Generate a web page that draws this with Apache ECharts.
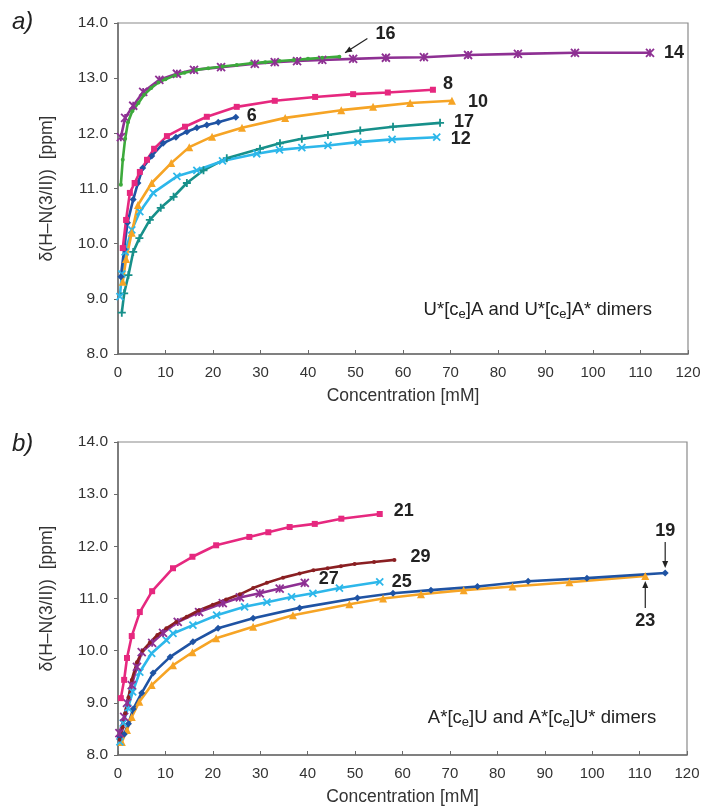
<!DOCTYPE html>
<html>
<head>
<meta charset="utf-8">
<script src="https://cdn.jsdelivr.net/npm/echarts@6/dist/echarts.min.js"></script>
<style>
html,body{margin:0;padding:0;background:#fff;}
#chart{width:704px;height:809px;}
</style>
</head>
<body>
<div id="chart"></div>
<script>
// ---------- DATA (panel a) ----------
const s14 = [[0.6,11.93],[1.5,12.28],[3.2,12.5],[5.3,12.75],[8.7,12.97],[12.4,13.08],[16,13.15],[21.7,13.2],[28.8,13.26],[33,13.29],[37.7,13.31],[43,13.33],[49.5,13.35],[56.4,13.37],[64.4,13.38],[73.7,13.42],[84.2,13.44],[96.2,13.46],[112,13.46]];
const s16 = [[0.6,11.07],[1.0,11.52],[1.5,11.9],[2.1,12.2],[3.0,12.4],[4.3,12.55],[5.5,12.7],[7,12.82],[8.5,12.92],[10,12.98],[12,13.05],[14,13.1],[16.5,13.15],[19,13.18],[22,13.21],[25,13.24],[28,13.27],[31,13.29],[34,13.31],[37,13.33],[40,13.35],[43,13.37],[46.6,13.39]];
const s8 = [[1,9.92],[1.7,10.43],[2.5,10.92],[3.5,11.1],[4.6,11.3],[6.1,11.52],[7.6,11.72],[10.3,11.95],[14.1,12.12],[18.7,12.3],[25,12.48],[33,12.59],[41.5,12.66],[49.5,12.71],[56.8,12.74],[66.3,12.79]];
const s6 = [[0.6,9.4],[1.3,9.9],[2,10.38],[3.2,10.8],[4.2,11.1],[5.2,11.37],[7.1,11.59],[9.5,11.82],[12.2,11.93],[14.5,12.03],[16.6,12.1],[18.7,12.15],[21.1,12.2],[24.8,12.29]];
const s10 = [[1,9.31],[1.7,9.72],[2.9,10.2],[4.2,10.7],[7.1,11.1],[11.2,11.46],[15,11.75],[19.8,11.94],[26.1,12.1],[35.2,12.28],[47,12.42],[53.7,12.48],[61.5,12.55],[70.3,12.59]];
const s17 = [[0.8,8.75],[1.3,9.1],[2.2,9.43],[3.2,9.85],[4.5,10.1],[6.7,10.43],[9,10.65],[11.7,10.85],[14.5,11.1],[18,11.33],[22.9,11.55],[29.9,11.72],[34.1,11.82],[38.7,11.9],[44.2,11.97],[51,12.05],[57.9,12.12],[67.8,12.19]];
const s12 = [[0.4,9.04],[0.8,9.45],[1.5,9.85],[2.9,10.25],[4.6,10.58],[7.4,10.92],[12.4,11.22],[16.6,11.33],[22,11.5],[29.2,11.63],[34,11.7],[38.7,11.74],[44.2,11.78],[50.5,11.84],[57.7,11.89],[67.1,11.93]];
// ---------- DATA (panel b) ----------
const s21 = [[0.6,9.09],[1.3,9.44],[1.9,9.86],[2.9,10.28],[4.6,10.74],[7.2,11.14],[11.6,11.58],[15.7,11.8],[20.7,12.02],[27.7,12.18],[31.7,12.27],[36.2,12.37],[41.5,12.43],[47.1,12.53],[55.2,12.62]];
const s29 = [[0.3,8.29],[1,8.53],[1.5,8.8],[2.2,9.1],[2.9,9.44],[4,9.78],[5.2,10.0],[6.7,10.15],[8.3,10.3],[10.2,10.43],[12.3,10.55],[14.5,10.65],[17,10.77],[20,10.88],[22.8,10.98],[25.7,11.08],[28.5,11.2],[31.4,11.3],[34.8,11.4],[38.3,11.48],[41.2,11.54],[44.2,11.58],[47,11.62],[49.9,11.66],[54,11.7],[58.3,11.74]];
const s27 = [[0.3,8.42],[1.3,8.73],[1.9,9.0],[2.9,9.34],[4,9.69],[5,9.97],[7.2,10.15],[9.5,10.34],[12.6,10.55],[17.1,10.74],[22.1,10.91],[25.7,11.02],[29.9,11.1],[34.1,11.19],[39.4,11.3]];
const s25 = [[0.4,8.25],[1.1,8.61],[2.1,8.9],[3.1,9.21],[4.6,9.59],[7.1,9.95],[10.2,10.2],[11.6,10.33],[15.8,10.49],[20.8,10.68],[26.7,10.84],[31.4,10.93],[36.6,11.03],[41.1,11.1],[46.7,11.2],[55.2,11.32]];
const s19 = [[0.4,8.35],[1.3,8.4],[2.2,8.6],[3.2,8.88],[5,9.19],[7.4,9.57],[11,9.88],[15.8,10.17],[21.1,10.43],[28.5,10.62],[38.3,10.82],[50.5,11.01],[58,11.1],[66,11.16],[75.8,11.23],[86.5,11.33],[98.9,11.39],[115.4,11.49]];
const s23 = [[0.8,8.25],[1.9,8.48],[2.9,8.73],[4.5,9.02],[7.1,9.34],[11.6,9.72],[15.7,9.97],[20.7,10.24],[28.5,10.46],[36.9,10.68],[48.8,10.89],[55.9,11.0],[63.9,11.08],[72.9,11.16],[83.2,11.23],[95.2,11.31],[111.2,11.43]];

const xTicks = [0,10,20,30,40,50,60,70,80,90,100,110,120];
const yTicks = [8.0,9.0,10.0,11.0,12.0,13.0,14.0];
const xName = 'Concentration [mM]';
const yName = 'δ(H–N(3/II))  [ppm]';
const noteA = 'U*[c{s|e}]A and U*[c{s|e}]A* dimers';
const noteB = 'A*[c{s|e}]U and A*[c{s|e}]U* dimers';

// ---------- STYLE ----------
const FONT = '"Liberation Sans", Arial, sans-serif';
const C = {
  purple:'#8E3093', green:'#3DAA3C', magenta:'#E6287F', blue:'#1F53A3',
  orange:'#F6A425', teal:'#17908A', cyan:'#2DB7EA', brown:'#8A1F22'
};
const SYM = {
  star:'path://M0,0L10,10M10,0L0,10M5,0L5,10',
  cross:'path://M0,0L10,10M10,0L0,10',
  plus:'path://M5,0L5,10M0,5L10,5'
};
const LABEL_FS = 18;

function mkSeries(data, color, symbol, size, gi, label, off, pathSym){
  return {
    type:'line', xAxisIndex:gi, yAxisIndex:gi, data:data,
    symbol:symbol, symbolSize:size, showAllSymbol:true,
    lineStyle:{color:color, width:2.6},
    itemStyle:{color: pathSym ? 'rgba(0,0,0,0)' : color, borderColor:color, borderWidth: pathSym ? 1.8 : 0},
    emphasis:{disabled:true},
    animation:false,
    endLabel: label ? {show:true, formatter:label, color:'#222', fontSize:LABEL_FS, fontWeight:'bold', fontFamily:FONT, offset:off||[0,0]} : {show:false}
  };
}

function xAxisCfg(gi){
  return {
    type:'value', gridIndex:gi, min:0, max:120, interval:10,
    name:xName, nameLocation:'middle', nameGap:33,
    nameTextStyle:{fontSize:17.5, color:'#333', fontFamily:FONT},
    axisLine:{lineStyle:{color:'#6a6a6a', width:1.5}},
    axisTick:{inside:true, length:4, lineStyle:{color:'#6a6a6a'}},
    axisLabel:{fontSize:15, color:'#333', fontFamily:FONT, margin:11, formatter:(v)=> xTicks.includes(v)? String(v):''},
    splitLine:{show:false}
  };
}
function yAxisCfg(gi){
  return {
    type:'value', gridIndex:gi, min:8, max:14, interval:1,
    name:yName, nameLocation:'middle', nameGap:62,
    nameTextStyle:{fontSize:17.5, color:'#333', fontFamily:FONT},
    axisLine:{lineStyle:{color:'#6a6a6a', width:1.5}},
    axisTick:{inside:false, length:4, lineStyle:{color:'#6a6a6a'}},
    axisLabel:{fontSize:15.5, color:'#333', fontFamily:FONT, margin:10, formatter:(v)=> v.toFixed(1)},
    splitLine:{show:false}
  };
}

const chart = echarts.init(document.getElementById('chart'), null, {renderer:'canvas'});
chart.setOption({
  backgroundColor:'#fff',
  animation:false,
  grid:[
    {left:118, top:23, width:570, height:331, show:true, borderColor:'#8a8a8a', borderWidth:1.2, backgroundColor:'transparent'},
    {left:118, top:442, width:569, height:313, show:true, borderColor:'#8a8a8a', borderWidth:1.2, backgroundColor:'transparent'}
  ],
  xAxis:[xAxisCfg(0), xAxisCfg(1)],
  yAxis:[yAxisCfg(0), yAxisCfg(1)],
  series:[
    mkSeries(s17, C.teal, SYM.plus, 8, 0, '17', [6,-1], true),
    mkSeries(s12, C.cyan, SYM.cross, 7, 0, '12', [6,2], true),
    mkSeries(s10, C.orange, 'triangle', 8, 0, '10', [8,1]),
    mkSeries(s6, C.blue, 'diamond', 7, 0, '6', [3,-1]),
    mkSeries(s8, C.magenta, 'rect', 6, 0, '8', [2,-6]),
    mkSeries(s14, C.purple, SYM.star, 8, 0, '14', [6,0], true),
    mkSeries(s16, C.green, 'circle', 4, 0, null),
    mkSeries(s23, C.orange, 'triangle', 8, 1, null),
    mkSeries(s19, C.blue, 'diamond', 7, 1, null),
    mkSeries(s25, C.cyan, SYM.cross, 7, 1, '25', [4,0], true),
    mkSeries(s27, C.purple, SYM.star, 8, 1, '27', [6,-4], true),
    mkSeries(s29, C.brown, 'circle', 4, 1, '29', [8,-3]),
    mkSeries(s21, C.magenta, 'rect', 6, 1, '21', [6,-3])
  ]
});

// ---------- annotations positioned from data coordinates ----------
function px(gi, pt){ return chart.convertToPixel({gridIndex:gi}, pt); }
const g = [];
const labStyle = {fill:'#222', fontSize:LABEL_FS, fontWeight:'bold', fontFamily:FONT};
// 16 label + arrow
const a16s = px(0,[52.5,13.72]), a16e = px(0,[47.8,13.46]), t16 = px(0,[54.2,13.8]);
g.push({type:'line', shape:{x1:a16s[0],y1:a16s[1],x2:a16e[0],y2:a16e[1]}, style:{stroke:'#222', lineWidth:1.2}});
{
  const dx=a16e[0]-a16s[0], dy=a16e[1]-a16s[1], L=Math.hypot(dx,dy), ux=dx/L, uy=dy/L;
  g.push({type:'polygon', shape:{points:[[a16e[0],a16e[1]],[a16e[0]-ux*7-uy*3,a16e[1]-uy*7+ux*3],[a16e[0]-ux*7+uy*3,a16e[1]-uy*7-ux*3]]}, style:{fill:'#222'}});
}
g.push({type:'text', x:t16[0], y:t16[1], style:Object.assign({text:'16', align:'left', verticalAlign:'middle'}, labStyle)});
// 19 label + arrow (down)
const e19 = px(1, s19[s19.length-1]);
g.push({type:'text', x:e19[0], y:e19[1]-42, style:Object.assign({text:'19', align:'center', verticalAlign:'middle'}, labStyle)});
g.push({type:'line', shape:{x1:e19[0],y1:e19[1]-31,x2:e19[0],y2:e19[1]-9}, style:{stroke:'#222', lineWidth:1.2}});
g.push({type:'polygon', shape:{points:[[e19[0],e19[1]-5],[e19[0]-3,e19[1]-12],[e19[0]+3,e19[1]-12]]}, style:{fill:'#222'}});
// 23 label + arrow (up)
const e23 = px(1, s23[s23.length-1]);
g.push({type:'text', x:e23[0], y:e23[1]+45, style:Object.assign({text:'23', align:'center', verticalAlign:'middle'}, labStyle)});
g.push({type:'line', shape:{x1:e23[0],y1:e23[1]+32,x2:e23[0],y2:e23[1]+10}, style:{stroke:'#222', lineWidth:1.2}});
g.push({type:'polygon', shape:{points:[[e23[0],e23[1]+5],[e23[0]-3,e23[1]+12],[e23[0]+3,e23[1]+12]]}, style:{fill:'#222'}});
// notes
const nA = px(0,[112.4,8.8]), nB = px(1,[113.5,8.71]);
const noteStyle = {fill:'#222', fontSize:18.5, fontFamily:FONT, lineHeight:22, align:'right', verticalAlign:'middle',
  rich:{s:{fontSize:13, lineHeight:13, verticalAlign:'bottom', fill:'#222', fontFamily:FONT}}};
g.push({type:'text', x:nA[0], y:nA[1], style:Object.assign({text:noteA}, noteStyle)});
g.push({type:'text', x:nB[0], y:nB[1], style:Object.assign({text:noteB}, noteStyle)});
// panel letters
g.push({type:'text', left:12, top:10, style:{text:'a)', fill:'#222', fontSize:24, fontStyle:'italic', fontFamily:FONT}});
g.push({type:'text', left:12, top:432, style:{text:'b)', fill:'#222', fontSize:24, fontStyle:'italic', fontFamily:FONT}});
chart.setOption({graphic:g});
</script>
</body>
</html>
